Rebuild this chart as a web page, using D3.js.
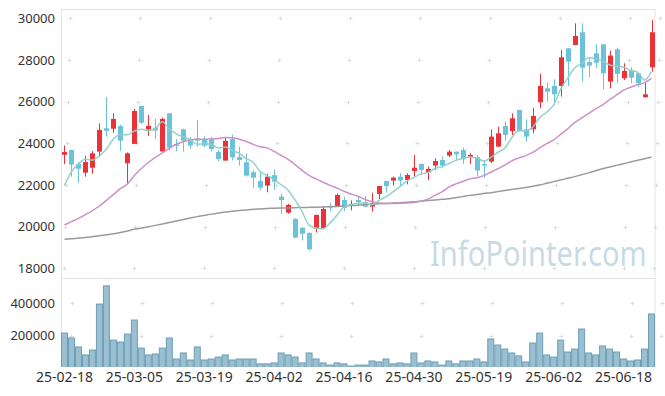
<!DOCTYPE html>
<html>
<head>
<meta charset="utf-8">
<script src="https://cdn.jsdelivr.net/npm/d3@7"></script>
<style>
  body { margin: 0; background: #fff; }
  svg { display: block; font-family: "Noto Sans", sans-serif; }
</style>
</head>
<body>
<div id="chart"></div>
<script>
// trading days (yy-mm-dd)
var dates = [
  '25-02-18','25-02-19','25-02-20','25-02-21','25-02-24','25-02-25','25-02-26','25-02-27','25-02-28',
  '25-03-04','25-03-05','25-03-06','25-03-07','25-03-10','25-03-11','25-03-12','25-03-13','25-03-14',
  '25-03-17','25-03-18','25-03-19','25-03-20','25-03-21','25-03-24','25-03-25','25-03-26','25-03-27',
  '25-03-28','25-03-31','25-04-01','25-04-02','25-04-03','25-04-04','25-04-07','25-04-08','25-04-09',
  '25-04-10','25-04-11','25-04-14','25-04-15','25-04-16','25-04-17','25-04-18','25-04-21','25-04-22',
  '25-04-23','25-04-24','25-04-25','25-04-28','25-04-29','25-04-30','25-05-02','25-05-07','25-05-08',
  '25-05-09','25-05-12','25-05-13','25-05-14','25-05-15','25-05-16','25-05-19','25-05-20','25-05-21',
  '25-05-22','25-05-23','25-05-26','25-05-27','25-05-28','25-05-29','25-05-30','25-06-02','25-06-04',
  '25-06-05','25-06-09','25-06-10','25-06-11','25-06-12','25-06-13','25-06-16','25-06-17','25-06-18',
  '25-06-19','25-06-20','25-06-23','25-06-24'
];

var open = [
  23450,23680,23010,22590,22830,23600,24720,24700,24830,23040,
  23970,25790,24660,24750,23610,25440,23950,24670,24190,24240,
  24190,24200,23580,23170,24200,23340,23090,22610,22190,21970,
  22470,21440,20670,20370,19950,19700,19900,19940,21000,20980,
  21280,20990,21280,21170,20960,21570,22190,22210,22400,22240,
  22670,23010,22610,22930,23200,23410,23600,23680,23360,23330,
  23000,23120,23840,24830,24590,25600,24670,24670,25970,26640,
  26750,26750,28560,28720,29330,27900,28320,28750,26960,28510,
  27120,27490,27360,26210,27650
];
var high = [
  23900,23690,23100,23400,23630,24960,26220,25440,24890,23560,
  25640,25800,25360,25170,25230,25450,24200,24700,24290,25110,
  24340,24310,23680,24300,24420,23840,23520,22720,22580,22540,
  22750,21570,21090,20400,19980,19720,20580,20980,21150,21580,
  21440,21260,21420,21480,21630,21960,22200,22400,22560,22560,
  23440,23020,22880,23280,23360,23680,23610,23790,23520,23440,
  23200,24670,24800,25040,25440,25610,25150,25710,27330,26910,
  27070,28480,28570,29760,29760,28130,28750,28760,28450,28590,
  27840,27650,27370,26910,29920
];
var low = [
  23000,22400,22100,22400,22540,23360,24330,24500,23620,22060,
  23960,24930,24360,24200,23600,23650,23620,23600,23740,23840,
  23800,23600,23130,23160,23170,22930,22400,21860,21740,21650,
  21760,20610,20620,19450,19340,18850,19720,19920,20740,20960,
  20740,20780,20980,20930,20720,21330,21630,21970,21970,22030,
  22400,22480,22240,22720,22800,23330,23200,23010,23010,22430,
  22330,23040,23830,24130,24400,24560,24080,24480,25680,26000,
  25840,26240,26750,28700,26960,27170,27600,26590,26640,26910,
  27040,26880,26690,26200,27440
];
var close = [
  23580,22980,22780,23100,23520,24640,24600,25170,24130,23520,
  25550,24990,24830,24610,25170,23790,23870,24125,23890,24130,
  23885,23726,23250,24120,23320,23200,22450,22350,21870,22400,
  22160,21280,21040,19470,19660,18910,20560,20850,20920,21520,
  20900,21080,21180,20960,21120,21950,21950,22350,22210,22480,
  22830,22720,22770,23150,22930,23600,23470,23230,23440,22690,
  22930,24320,24480,24400,25200,24610,24320,25310,26750,26480,
  26350,28130,27920,29150,27630,27730,27870,27360,28210,27330,
  27470,27150,26880,26350,29330
];
var volume = [
  216000,186000,131000,82000,112000,394000,506000,173000,161000,210000,
  296000,124000,82000,88000,124000,186000,57000,94000,51000,131000,
  51000,57000,69000,82000,51000,57000,57000,57000,27000,27000,
  33000,94000,82000,69000,33000,94000,57000,33000,20000,33000,
  27000,14000,20000,20000,45000,39000,57000,27000,33000,27000,
  94000,33000,45000,39000,20000,45000,27000,45000,45000,57000,
  39000,180000,143000,118000,94000,76000,39000,155000,216000,82000,
  69000,173000,100000,118000,241000,94000,82000,137000,118000,100000,
  57000,45000,51000,118000,333000
];
var ma5 = [
  21970,22640,23010,23230,23190,23400,23730,24210,24410,24410,
  24590,24670,24600,24700,25030,24680,24450,24310,24170,23960,
  23980,23950,23780,23820,23660,23520,23270,23090,22640,22450,
  22250,22010,21750,21270,20720,20070,19930,19890,20180,20550,
  20950,21050,21120,21130,21050,21260,21430,21670,21920,22190,
  22360,22520,22600,22790,22880,23030,23180,23280,23330,23290,
  23150,23320,23570,23760,24270,24600,24600,24770,25240,25490,
  25840,26600,27130,27610,27840,28110,28060,27950,27760,27700,
  27650,27500,27410,27040,27440
];
var ma20 = [
  20080,20240,20400,20580,20770,20990,21260,21540,21820,22050,
  22450,22790,23080,23330,23540,23760,23960,24080,24170,24190,
  24190,24210,24230,24280,24270,24190,24090,23950,23830,23780,
  23610,23420,23230,22980,22700,22460,22290,22130,21980,21850,
  21700,21570,21460,21300,21190,21130,21110,21110,21120,21130,
  21160,21230,21320,21500,21670,21900,22050,22170,22290,22350,
  22450,22610,22780,22950,23160,23290,23410,23560,23780,23980,
  24160,24430,24690,24990,25220,25430,25650,25850,26090,26320,
  26550,26690,26810,26910,27120
];
var ma60 = [
  19390,19420,19450,19480,19520,19560,19610,19660,19720,19790,
  19870,19930,19990,20060,20130,20200,20270,20340,20410,20480,
  20540,20600,20650,20700,20740,20770,20800,20830,20850,20870,
  20880,20890,20900,20910,20920,20925,20930,20940,20955,20970,
  20990,21010,21030,21050,21080,21095,21110,21130,21150,21170,
  21195,21220,21250,21280,21310,21340,21390,21440,21500,21540,
  21590,21630,21680,21730,21780,21830,21880,21940,22000,22080,
  22160,22240,22320,22400,22490,22580,22680,22780,22860,22940,
  23020,23100,23180,23260,23330
];
var priceTicks = [18000, 20000, 22000, 24000, 26000, 28000, 30000];
var volumeTicks = [200000, 400000];
var dateTicks = ['25-02-18','25-03-05','25-03-19','25-04-02','25-04-16','25-04-30','25-05-19','25-06-02','25-06-18'];

var W = 665, H = 396;
var left = 61, right = 655;
var pTop = 9.5, pBot = 278.5, vBot = 367;

var svg = d3.select('#chart').append('svg').attr('width', W).attr('height', H);

var x = d3.scaleBand().domain(dates).range([left, right]).padding(0);
var cx = function(d) { return x(d) + x.bandwidth() / 2; };
var yP = d3.scaleLinear().domain([18000, 30000]).range([268.3, 18.3]);
var yV = d3.scaleLinear().domain([0, 400000]).range([368.3, 303.1]);

var rows = dates.map(function(d, i) {
  return { date: d, o: open[i], h: high[i], l: low[i], c: close[i], v: volume[i],
           m5: ma5[i], m20: ma20[i], m60: ma60[i] };
});

var defs = svg.append('defs');
defs.append('clipPath').attr('id', 'clipP').append('rect')
  .attr('x', left).attr('y', pTop).attr('width', right - left).attr('height', pBot - pTop);
defs.append('clipPath').attr('id', 'clipV').append('rect')
  .attr('x', left).attr('y', pBot).attr('width', right - left).attr('height', vBot - pBot);

// panel frames
var frame = svg.append('g').attr('stroke', '#e3e3e3').attr('fill', 'none');
frame.append('line').attr('x1', left).attr('x2', right).attr('y1', pTop).attr('y2', pTop);
frame.append('line').attr('x1', left).attr('x2', right).attr('y1', pBot).attr('y2', pBot);
frame.append('line').attr('x1', left + 0.5).attr('x2', left + 0.5).attr('y1', pTop).attr('y2', vBot);
frame.append('line').attr('x1', right).attr('x2', right).attr('y1', pTop).attr('y2', vBot);

// little "+" grid marks
var gx = dateTicks.map(cx).concat([right - 1]);
var gy = priceTicks.map(yP).concat(volumeTicks.map(yV));
var plus = svg.append('g').attr('stroke', '#dcdcdc').attr('stroke-width', 1);
gx.forEach(function(px) {
  gy.forEach(function(py) {
    px = Math.round(px) + 0.5; py = Math.round(py) + 0.5;
    plus.append('line').attr('x1', px - 2).attr('x2', px + 2).attr('y1', py).attr('y2', py);
    plus.append('line').attr('x1', px).attr('x2', px).attr('y1', py - 2).attr('y2', py + 2);
  });
});

// watermark (squeezed horizontally like the original)
svg.append('text')
  .attr('transform', 'translate(430,266) scale(0.855,1)')
  .attr('font-size', 34)
  .attr('fill', '#c8dbe5')
  .text('InfoPointer.com');

// candles
var up = '#ea3339', down = '#6cc2d9';
var gP = svg.append('g').attr('clip-path', 'url(#clipP)');
var candle = gP.selectAll('g.candle').data(rows).enter().append('g').attr('class', 'candle');
candle.append('line')
  .attr('x1', function(d) { return Math.round(cx(d.date)) + 0.5; })
  .attr('x2', function(d) { return Math.round(cx(d.date)) + 0.5; })
  .attr('y1', function(d) { return yP(d.h); })
  .attr('y2', function(d) { return yP(d.l); })
  .attr('stroke', function(d) { return d.c >= d.o ? up : down; })
  .attr('stroke-width', 1);
candle.append('rect')
  .attr('x', function(d) { return Math.round(cx(d.date)) - 2; })
  .attr('width', 5)
  .attr('y', function(d) { return yP(Math.max(d.o, d.c)); })
  .attr('height', function(d) { return Math.max(1, Math.abs(yP(d.o) - yP(d.c))); })
  .attr('fill', function(d) { return d.c >= d.o ? up : down; });

// moving averages
function maLine(key) {
  return d3.line().x(function(d) { return cx(d.date); }).y(function(d) { return yP(d[key]); }).curve(d3.curveMonotoneX);
}
gP.append('path').datum(rows).attr('d', maLine('m60'))
  .attr('fill', 'none').attr('stroke', '#9a9a9a').attr('stroke-width', 1.5);
gP.append('path').datum(rows).attr('d', maLine('m20'))
  .attr('fill', 'none').attr('stroke', '#cc90c8').attr('stroke-width', 1.5);
gP.append('path').datum(rows).attr('d', maLine('m5'))
  .attr('fill', 'none').attr('stroke', '#8ecfc9').attr('stroke-width', 1.5).attr('stroke-opacity', 0.95);

// volume bars
var gV = svg.append('g').attr('clip-path', 'url(#clipV)');
gV.selectAll('rect').data(rows).enter().append('rect')
  .attr('x', function(d) { return x(d.date) + 0.5; })
  .attr('width', x.bandwidth() - 1)
  .attr('y', function(d) { return yV(d.v); })
  .attr('height', function(d) { return vBot + 3 - yV(d.v); })
  .attr('fill', '#99bfd0')
  .attr('stroke', '#6e9eb6')
  .attr('stroke-width', 1);

// axes
var axP = svg.append('g').attr('transform', 'translate(' + left + ',0)')
  .call(d3.axisLeft(yP).tickValues(priceTicks).tickSize(0).tickPadding(6).tickFormat(d3.format('d')));
var axV = svg.append('g').attr('transform', 'translate(' + left + ',0)')
  .call(d3.axisLeft(yV).tickValues(volumeTicks).tickSize(0).tickPadding(6).tickFormat(d3.format('d')));
var axX = svg.append('g').attr('transform', 'translate(0,' + vBot + ')')
  .call(d3.axisBottom(x).tickValues(dateTicks).tickSize(0).tickPadding(5));
[axP, axV, axX].forEach(function(a) {
  a.select('.domain').remove();
  a.selectAll('text').attr('fill', '#333').attr('font-family', '"Noto Sans", sans-serif');
});
axP.selectAll('text').attr('font-size', 13);
axV.selectAll('text').attr('font-size', 13);
axX.selectAll('text').attr('font-size', 14);
</script>
</body>
</html>
